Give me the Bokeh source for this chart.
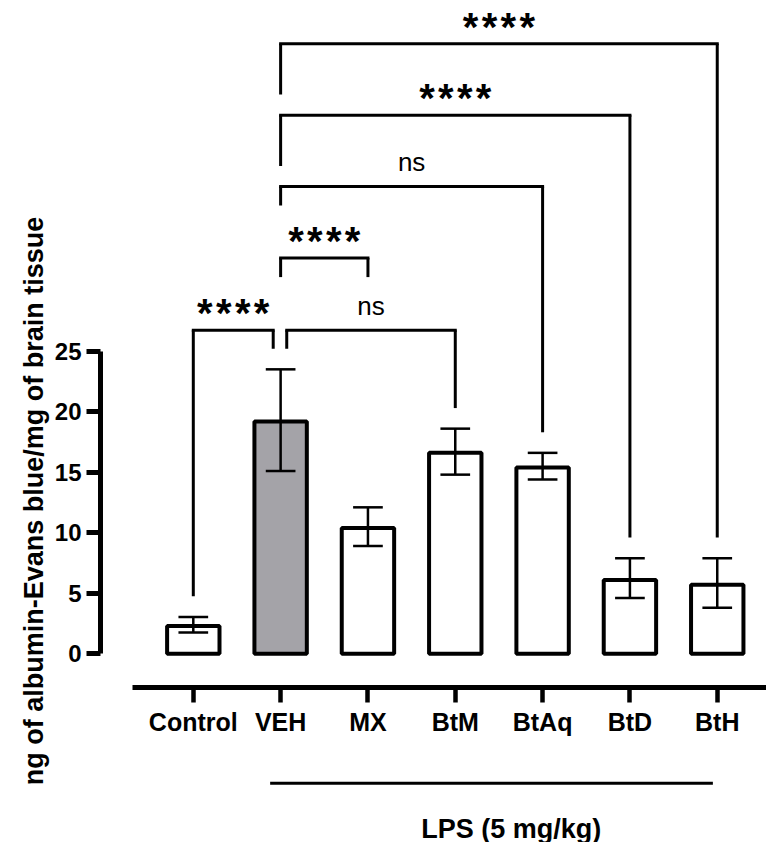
import math
from bokeh.plotting import figure
from bokeh.models import Range1d, FixedTicker, ColumnDataSource
from bokeh.layouts import column, row
from bokeh.embed import file_html
from bokeh.resources import INLINE
from bokeh.core.properties import value

# ---------------- data ----------------
categories = ["Control", "VEH", "MX", "BtM", "BtAq", "BtD", "BtH"]
means = [2.3, 19.2, 10.4, 16.6, 15.4, 6.1, 5.7]
err_upper = [3.05, 23.5, 12.1, 18.6, 16.6, 7.9, 7.9]
err_lower = [1.76, 15.1, 8.9, 14.8, 14.4, 4.6, 3.8]
bar_fill = ["white", "#a4a3a8", "white", "white", "white", "white", "white"]
y_ticks = [0, 5, 10, 15, 20, 25]
y_title = "ng of albumin-Evans blue/mg of brain tissue"
lps_groups = ["VEH", "MX", "BtM", "BtAq", "BtD", "BtH"]
lps_label = "LPS (5 mg/kg)"

# multiple comparisons (from, to, label)
comp_from = ["Control", "VEH", "VEH", "VEH", "VEH", "VEH"]
comp_to = ["VEH", "BtM", "MX", "BtAq", "BtD", "BtH"]
comp_label = ["****", "ns", "****", "ns", "****", "****"]

# ---------------- layout constants ----------------
FONT = "Liberation Sans"
W = 766
HT = 842
H1 = 745
H2 = HT - H1
TW = 50            # width of the strip holding the y-axis title
LEFT = 100
X_START, X_END = -1.0627, 6.564
Y_START, Y_END = -2.784, 53.97
BAR_W = 0.6
CAP = 0.17
GAP = 1.7          # space between bracket leg end and error bar
bracket_level = [26.72, 26.72, 32.69, 38.6, 44.5, 50.4]
left_drop = [None, None, 1.57, 1.57, 4.2, 4.2]   # None -> down to error bar
right_drop = [None, None, 1.57, None, None, None]
left_shift = [0.0, 0.07, 0.0, 0.0, 0.0, 0.0]
right_shift = [-0.085, 0.0, 0.0, 0.0, 0.0, 0.0]
TITLE_X, TITLE_Y = 33, HT - 500.5   # in strip pixels (y up)

idx = {c: i for i, c in enumerate(categories)}
xs = list(range(len(categories)))

p = figure(width=W - TW, height=H1, output_backend="svg", toolbar_location=None,
           x_range=Range1d(X_START, X_END), y_range=Range1d(Y_START, Y_END),
           min_border_left=LEFT - TW, min_border_right=0, min_border_top=0,
           min_border_bottom=H1 - 687, outline_line_color=None)
p.grid.visible = False
p.background_fill_color = "white"

# bars
src = ColumnDataSource(dict(x=xs, top=means, fill=bar_fill, up=err_upper, lo=err_lower,
                            cl=[x - CAP for x in xs], cr=[x + CAP for x in xs]))
p.vbar(x="x", top="top", bottom=0, width=BAR_W, fill_color="fill",
       line_color="black", line_width=4, source=src)
# error bars
p.segment(x0="x", y0="lo", x1="x", y1="up", line_color="black", line_width=2.5, source=src)
p.segment(x0="cl", y0="up", x1="cr", y1="up", line_color="black", line_width=2.5, source=src)
p.segment(x0="cl", y0="lo", x1="cr", y1="lo", line_color="black", line_width=2.5, source=src)

# comparison brackets
bx0, bx1, by, bl, br = [], [], [], [], []
for k, (a, b) in enumerate(zip(comp_from, comp_to)):
    ia, ib = idx[a], idx[b]
    y = bracket_level[k]
    xa = ia + left_shift[k]
    xb = ib + right_shift[k]
    yl = y - left_drop[k] if left_drop[k] is not None else err_upper[ia] + GAP
    yrr = y - right_drop[k] if right_drop[k] is not None else err_upper[ib] + GAP
    bx0.append(xa); bx1.append(xb); by.append(y); bl.append(yl); br.append(yrr)
bsrc = ColumnDataSource(dict(x0=bx0, x1=bx1, y=by, yl=bl, yr=br))
p.segment(x0="x0", y0="y", x1="x1", y1="y", line_color="black", line_width=3,
          line_cap="square", source=bsrc)
p.segment(x0="x0", y0="y", x1="x0", y1="yl", line_color="black", line_width=3, source=bsrc)
p.segment(x0="x1", y0="y", x1="x1", y1="yr", line_color="black", line_width=3, source=bsrc)

star_x, star_y, star_t, ns_x, ns_y, ns_t = [], [], [], [], [], []
for k, lab in enumerate(comp_label):
    xm = (bx0[k] + bx1[k]) / 2
    if lab == "ns":
        ns_x.append(xm); ns_y.append(by[k] + 2.0); ns_t.append(lab)
    else:
        star_x.append(xm); star_y.append(by[k] + 1.42)
        star_t.append("\u200a".join(list(lab)))
p.text(x=star_x, y=star_y, text=star_t, text_font=value(FONT), text_font_size="40px",
       text_font_style="bold", text_align="center", text_baseline="alphabetic",
       text_color="black")
p.text(x=ns_x, y=ns_y, text=ns_t, text_font=value(FONT), text_font_size="26px",
       text_align="center", text_baseline="alphabetic", text_color="black")

# axes
xa = p.xaxis[0]
xa.ticker = FixedTicker(ticks=xs)
xa.major_label_overrides = {i: c for i, c in enumerate(categories)}
xa.bounds = (-0.696, X_END)
xa.axis_line_width = 5
xa.major_tick_line_width = 4.5
xa.major_tick_out = 15
xa.major_tick_in = 0
xa.minor_tick_line_color = None
xa.major_label_standoff = 5
xa.major_label_text_font = FONT
xa.major_label_text_font_style = "bold"
xa.major_label_text_font_size = "25px"
xa.major_label_text_color = "black"

ya = p.yaxis[0]
ya.ticker = FixedTicker(ticks=y_ticks)
ya.bounds = (0, 25)
ya.axis_line_width = 5
ya.major_tick_line_width = 5
ya.major_tick_out = 14
ya.major_tick_in = 0
ya.minor_tick_line_color = None
ya.major_label_standoff = 5
ya.major_label_text_font = FONT
ya.major_label_text_font_style = "bold"
ya.major_label_text_font_size = "24px"
ya.major_label_text_color = "black"

# lower panel: LPS grouping line
p2 = figure(width=W - TW, height=H2, output_backend="svg", toolbar_location=None,
            x_range=p.x_range, y_range=Range1d(0, H2),
            x_axis_location=None, y_axis_location=None,
            min_border_left=LEFT - TW, min_border_right=0, min_border_top=0,
            min_border_bottom=0, outline_line_color=None)
p2.grid.visible = False
g0, g1 = idx[lps_groups[0]], idx[lps_groups[-1]]
p2.segment(x0=[g0 - 0.12], y0=[59.3], x1=[g1 - 0.05], y1=[59.3], line_color="black", line_width=3)
p2.text(x=[3.64], y=[14], text=[lps_label], text_font=value(FONT), text_font_size="27px",
        text_font_style="bold", text_align="center", text_baseline="alphabetic", text_color="black")

# full-height strip on the left holding the y-axis title
pt = figure(width=TW, height=HT, output_backend="svg", toolbar_location=None,
            x_range=Range1d(0, TW), y_range=Range1d(0, HT),
            x_axis_location=None, y_axis_location=None,
            min_border_left=0, min_border_right=0, min_border_top=0,
            min_border_bottom=0, outline_line_color=None)
pt.grid.visible = False
pt.text(x=[TITLE_X], y=[TITLE_Y], text=[y_title], angle=math.pi / 2,
        text_font=value(FONT), text_font_style="bold", text_font_size="27px",
        text_align="center", text_baseline="alphabetic", text_color="black")

layout = row(pt, column(p, p2, spacing=0), spacing=0)
open("out.html", "w").write(file_html(layout, INLINE))
